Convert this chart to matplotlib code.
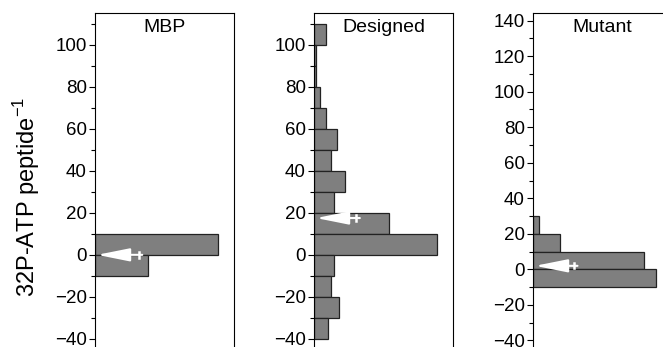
import matplotlib.pyplot as plt
from matplotlib.ticker import MultipleLocator

plt.rcParams['font.family'] = ['Liberation Sans', 'DejaVu Sans']

# bin lower edges (bin width 10) and relative frequencies (% of axis width)
mbp_bins = [0, -10]
mbp_vals = [88.4, 38.4]

des_bins = [100, 90, 80, 70, 60, 50, 40, 30, 20, 10, 0, -10, -20, -30, -40]
des_vals = [8.6, 1.7, 1.7, 4.3, 8.6, 16.5, 12.2, 22.3, 14.4, 54.0, 88.5, 14.4, 12.2, 18.0, 10.1]

mut_bins = [20, 10, 0, -10]
mut_vals = [4.1, 19.4, 79.9, 88.3]

titles = ['MBP', 'Designed', 'Mutant']
ylims = [(-50, 115), (-50, 115), (-51, 144.3)]
# mean arrows: (y, tip x, tail x)
arrows = [(0, 1.5, 34), (17.5, 1.5, 33), (2, 1.5, 32)]

fig = plt.figure(figsize=(6.63, 3.47), dpi=100)
lefts = [95 / 663, 314 / 663, 533 / 663]
w = 139 / 663
data = [(mbp_bins, mbp_vals), (des_bins, des_vals), (mut_bins, mut_vals)]

for i in range(3):
    ax = fig.add_axes([lefts[i], -13 / 347, w, 1.0])
    bins, vals = data[i]
    ax.barh(bins, vals, height=10, align='edge', color='#7f7f7f',
            edgecolor='#222222', linewidth=0.9)
    ax.set_xlim(0, 100)
    ax.set_ylim(*ylims[i])
    ax.yaxis.set_major_locator(MultipleLocator(20))
    ax.yaxis.set_minor_locator(MultipleLocator(10))
    ax.tick_params(axis='y', which='major', length=4, width=0.8, pad=2, labelsize=13.5)
    ax.tick_params(axis='y', which='minor', length=3, width=0.8)
    ax.set_xticks([])
    for s in ax.spines.values():
        s.set_linewidth(0.8)
    ax.text(0.5, 0.957, titles[i], transform=ax.transAxes, ha='center', va='center',
            fontsize=14)
    y, tip, tail = arrows[i]
    ax.annotate('', xy=(tip, y), xytext=(tail, y),
                arrowprops=dict(arrowstyle='-|>,head_length=2.0,head_width=0.4',
                                color='white', lw=1.5, shrinkA=0, shrinkB=0))
    ax.plot([tail - 2.5, tail - 2.5], [y - 1.5, y + 1.5], color='white', lw=1.8)

fig.text(0.04, 1 - 197 / 347, '32P-ATP peptide$^{\\mathregular{-1}}$', rotation=90,
         ha='center', va='center', fontsize=17)

fig.savefig('out.png', dpi=100)
